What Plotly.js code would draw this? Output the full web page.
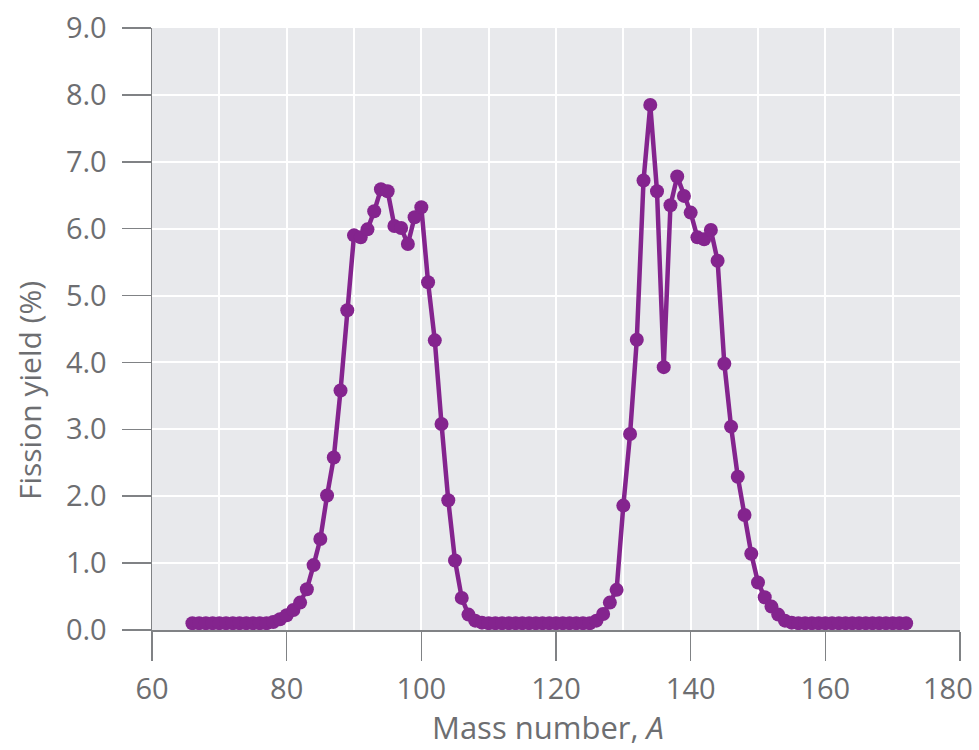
<!DOCTYPE html>
<html>
<head>
<meta charset="utf-8">
<script src="https://cdn.plot.ly/plotly-3.0.1.min.js"></script>
<style>
  html, body { margin: 0; padding: 0; background: #ffffff; }
  #chart { width: 979px; height: 750px; }
</style>
</head>
<body>
<div id="chart"></div>
<script>
// Mass number A (x values)
const massNumber = [
  66, 67, 68, 69, 70, 71, 72, 73, 74, 75, 76, 77, 78, 79, 80, 81, 82, 83, 84, 85,
  86, 87, 88, 89, 90, 91, 92, 93, 94, 95, 96, 97, 98, 99, 100, 101, 102, 103, 104, 105,
  106, 107, 108, 109, 110, 111, 112, 113, 114, 115, 116, 117, 118, 119, 120, 121, 122, 123, 124, 125,
  126, 127, 128, 129, 130, 131, 132, 133, 134, 135, 136, 137, 138, 139, 140, 141, 142, 143, 144, 145,
  146, 147, 148, 149, 150, 151, 152, 153, 154, 155, 156, 157, 158, 159, 160, 161, 162, 163, 164, 165,
  166, 167, 168, 169, 170, 171, 172
];

// Fission yield (%)
const fissionYield = [
  0.10, 0.10, 0.10, 0.10, 0.10, 0.10, 0.10, 0.10, 0.10, 0.10, 0.10, 0.10, 0.12, 0.16, 0.22, 0.30, 0.41, 0.61, 0.97, 1.36,
  2.01, 2.58, 3.58, 4.78, 5.90, 5.87, 5.99, 6.26, 6.59, 6.56, 6.04, 6.01, 5.77, 6.17, 6.32, 5.20, 4.33, 3.08, 1.94, 1.04,
  0.48, 0.23, 0.14, 0.11, 0.10, 0.10, 0.10, 0.10, 0.10, 0.10, 0.10, 0.10, 0.10, 0.10, 0.10, 0.10, 0.10, 0.10, 0.10, 0.10,
  0.14, 0.24, 0.41, 0.60, 1.86, 2.93, 4.34, 6.72, 7.85, 6.56, 3.93, 6.35, 6.78, 6.49, 6.24, 5.87, 5.84, 5.98, 5.52, 3.98,
  3.04, 2.29, 1.72, 1.14, 0.71, 0.49, 0.35, 0.23, 0.14, 0.11, 0.10, 0.10, 0.10, 0.10, 0.10, 0.10, 0.10, 0.10, 0.10, 0.10,
  0.10, 0.10, 0.10, 0.10, 0.10, 0.10, 0.10
];

const xTickValues = [60, 80, 100, 120, 140, 160, 180];
// the last label (180) sits at the right edge, so it is drawn as an annotation nudged left
const xTickLabels = ['60', '80', '100', '120', '140', '160', ''];
const xEdgeLabel = '180';
const yTickValues = [0, 1, 2, 3, 4, 5, 6, 7, 8, 9];
const yTickLabels = ['0.0', '1.0', '2.0', '3.0', '4.0', '5.0', '6.0', '7.0', '8.0', '9.0'];

const xTitle = 'Mass number, <i>A</i>';
const yTitle = 'Fission yield (%)';

const purple = '#84248e';
const textGray = '#6d6e71';
const axisGray = '#808285';
const fontFamily = '"Open Sans", "Noto Sans", sans-serif';

const trace = {
  x: massNumber,
  y: fissionYield,
  type: 'scatter',
  mode: 'lines+markers',
  line: { color: purple, width: 4.5 },
  marker: { color: purple, size: 14 },
  cliponaxis: false,
  hoverinfo: 'x+y'
};

const layout = {
  width: 979,
  height: 750,
  margin: { l: 152, r: 19, t: 28, b: 120 },
  paper_bgcolor: '#ffffff',
  plot_bgcolor: '#e8e9ec',
  showlegend: false,
  font: { family: fontFamily, color: textGray },
  xaxis: {
    range: [60, 180],
    tickmode: 'array',
    tickvals: xTickValues,
    ticktext: xTickLabels,
    showline: true,
    linecolor: axisGray,
    linewidth: 1.5,
    ticks: 'outside',
    ticklen: 29,
    tickwidth: 1.5,
    tickcolor: axisGray,
    ticklabelstandoff: 4,
    tickfont: { family: fontFamily, size: 29, color: textGray },
    showgrid: true,
    gridcolor: '#ffffff',
    gridwidth: 2,
    zeroline: false,
    minor: { dtick: 10, tick0: 60, showgrid: true, gridcolor: '#ffffff', gridwidth: 2, ticks: '' },
    fixedrange: true
  },
  yaxis: {
    range: [0, 9],
    tickmode: 'array',
    tickvals: yTickValues,
    ticktext: yTickLabels,
    showline: true,
    linecolor: axisGray,
    linewidth: 1.5,
    ticks: 'outside',
    ticklen: 29,
    tickwidth: 1.5,
    tickcolor: axisGray,
    ticklabelstandoff: 9,
    tickfont: { family: fontFamily, size: 29, color: textGray },
    showgrid: true,
    gridcolor: '#ffffff',
    gridwidth: 2,
    zeroline: false,
    fixedrange: true
  },
  annotations: [
    {
      text: xEdgeLabel,
      xref: 'x', yref: 'paper',
      x: xTickValues[xTickValues.length - 1], y: -0.096,
      xshift: -12,
      xanchor: 'center', yanchor: 'middle',
      showarrow: false,
      font: { family: fontFamily, size: 29, color: textGray }
    },
    {
      text: xTitle,
      xref: 'paper', yref: 'paper',
      x: 0.4907, y: -0.1993,
      xanchor: 'center', yanchor: 'bottom',
      showarrow: false,
      font: { family: fontFamily, size: 31, color: textGray }
    },
    {
      text: yTitle,
      xref: 'paper', yref: 'paper',
      x: -0.1522, y: 0.397,
      xanchor: 'center', yanchor: 'middle',
      textangle: -90,
      showarrow: false,
      font: { family: fontFamily, size: 30, color: textGray }
    }
  ]
};

Plotly.newPlot('chart', [trace], layout, { displayModeBar: false, staticPlot: true });
</script>
</body>
</html>
